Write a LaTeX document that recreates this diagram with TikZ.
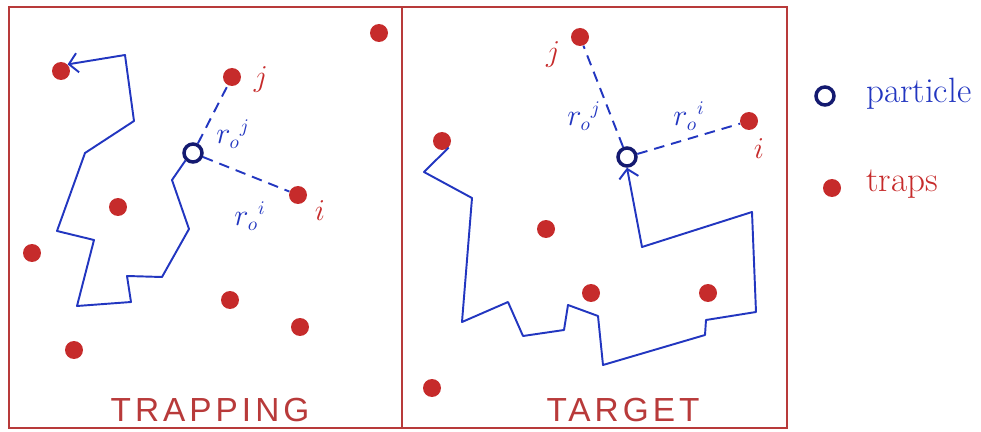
\documentclass[tikz,border=0pt]{standalone}
\usepackage{amsmath}
\usepackage{fontspec}
\usepackage{tikz}
\usetikzlibrary{arrows.meta}
\definecolor{trapred}{HTML}{C62B2B}
\definecolor{framered}{HTML}{B83A3A}
\definecolor{walkblue}{HTML}{2236C0}
\definecolor{particlenavy}{HTML}{141A70}
\newfontfamily\handfont[LetterSpace=12]{Liberation Sans}

\begin{document}
\begin{tikzpicture}[x=0.02cm, y=-0.02cm]
      % Les styles
      \tikzstyle{trap} = [circle, fill=trapred, inner sep=0pt, minimum size=0.36cm]
      \tikzstyle{particle} = [circle, draw=particlenavy, line width=2pt, inner sep=0pt, minimum size=0.36cm]
      \tikzstyle{walk} = [walkblue, line width=1.1pt, line join=round, -{Straight Barb[length=5pt, width=11pt]}]
      \tikzstyle{dist} = [walkblue, line width=1.1pt, dash pattern=on 6pt off 4pt]
      \tikzstyle{lab} = [text=trapred, font=\fontsize{18}{20}\selectfont]
      \tikzstyle{rlab} = [text=walkblue, font=\fontsize{16}{18}\selectfont]
      \tikzstyle{title} = [text=framered, font=\handfont\fontsize{19}{20}\selectfont]
      \tikzstyle{legend} = [right, font=\fontsize{20}{22}\selectfont]

      \useasboundingbox (0,0) rectangle (981,432);

      % Cadres
      \draw[framered, line width=1.3pt] (9,7) rectangle (402,428);
      \draw[framered, line width=1.3pt] (402,7) rectangle (787,428);

      % Panneau gauche : TRAPPING
      \node[trap] (a1) at (379,33) {};
      \node[trap] (a2) at (61,71) {};
      \node[trap] (aj) at (232,77) {};
      \node[trap] (a4) at (118,207) {};
      \node[trap] (ai) at (298,195) {};
      \node[trap] (a6) at (32,253) {};
      \node[trap] (a7) at (230,300) {};
      \node[trap] (a8) at (300,327) {};
      \node[trap] (a9) at (74,350) {};
      \node[particle] (pa) at (193,153) {};
      \node[lab] at (261,80) {$j$};
      \node[lab] at (320,211) {$i$};
      \node[rlab] at (233,134) {$r_o{}^{j}$};
      \node[rlab] at (250,216) {$r_o{}^{i}$};
      \draw[dist] (pa) -- (aj);
      \draw[dist] (pa) -- (ai);
      \draw[walk] (pa.south west) -- (172,180) -- (189,229) -- (162,277) -- (127,276)
        -- (131,302) -- (77,306) -- (94,240) -- (57,231) -- (85,153) -- (134,121)
        -- (125,55) -- (a2.north east);
      \node[title] (t1) at (210,410) {TRAPPING};

      % Panneau droit : TARGET
      \node[trap] (bj) at (580,37) {};
      \node[trap] (bi) at (749,121) {};
      \node[trap] (b3) at (442,141) {};
      \node[trap] (b4) at (546,229) {};
      \node[trap] (b5) at (591,293) {};
      \node[trap] (b6) at (708,293) {};
      \node[trap] (b7) at (432,388) {};
      \node[particle] (pb) at (627,157) {};
      \node[lab] at (553,55) {$j$};
      \node[lab] at (759,149) {$i$};
      \node[rlab] at (584,116) {$r_o{}^{j}$};
      \node[rlab] at (689,116) {$r_o{}^{i}$};
      \draw[dist] (pb) -- (bj);
      \draw[dist] (pb) -- (bi);
      \draw[walk] (b3.south east) -- (424,172) -- (472,198) -- (462,322) -- (508,302)
        -- (523,336) -- (564,330) -- (568,305) -- (598,316) -- (603,365) -- (705,335)
        -- (706,320) -- (756,312) -- (752,212) -- (642,247) -- (pb.south);
      \node[title] (t2) at (623,410) {TARGET};

      % Legende
      \node[particle] (lp) at (825,96) {};
      \node[legend, text=walkblue] (lpt) at (860,94) {particle};
      \node[trap] (lt) at (832,188) {};
      \node[legend, text=trapred] (ltt) at (860,184) {traps};

    \end{tikzpicture}
\end{document}
